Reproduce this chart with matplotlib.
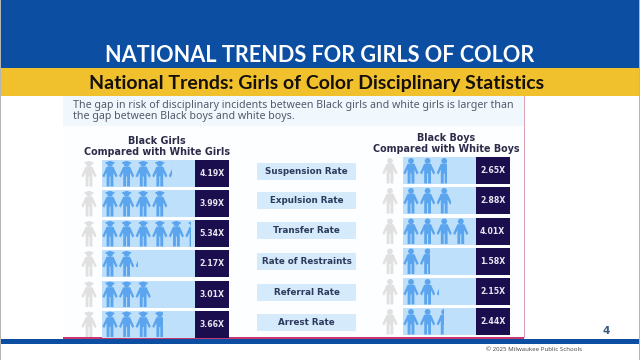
import matplotlib
matplotlib.use("Agg")
import matplotlib.pyplot as plt
from matplotlib.patches import Rectangle, Polygon, Circle, Ellipse

metrics = ["Suspension Rate", "Expulsion Rate", "Transfer Rate",
           "Rate of Restraints", "Referral Rate", "Arrest Rate"]
girls = [4.19, 3.99, 5.34, 2.17, 3.01, 3.66]
boys = [2.65, 2.88, 4.01, 1.58, 2.15, 2.44]

title = "NATIONAL TRENDS FOR GIRLS OF COLOR"
subtitle = "National Trends: Girls of Color Disciplinary Statistics"
intro = ["The gap in risk of disciplinary incidents between Black girls and white girls is larger than",
         "the gap between Black boys and white boys."]

BLUE = "#0b4ea2"
YELLOW = "#f0c02d"
LIGHT = "#bfe0fb"
ICON = "#5aa5ee"
GREY = "#e0e0e0"
DARK = "#1b0e4e"
TEXT = "#2c2c4a"

plt.rcParams["font.family"] = "Noto Sans"
fig = plt.figure(figsize=(6.4, 3.6), dpi=100)
ax = fig.add_axes([0, 0, 1, 1])
ax.set_xlim(0, 640)
ax.set_ylim(360, 0)
ax.axis("off")


def box(x0, y0, x1, y1, color, z=1):
    ax.add_patch(Rectangle((x0, y0), x1 - x0, y1 - y0, fc=color, ec="none", zorder=z))


def person(cx, top, h, color, girl, clip=None):
    # little figure, sized off its height, optionally cut at clip width
    u = h / 26
    parts = [
        Circle((cx, top + 3.4 * u), 2.9 * u),
        Polygon([(cx - 3.4 * u, top + 6.2 * u), (cx + 3.4 * u, top + 6.2 * u),
                 (cx + 7.6 * u, top + 15.5 * u), (cx + 5.8 * u, top + 17 * u),
                 (cx + 3.4 * u, top + 12 * u), (cx + 3.4 * u, top + 26 * u),
                 (cx + 0.5 * u, top + 26 * u), (cx + 0.5 * u, top + 16 * u),
                 (cx - 0.5 * u, top + 16 * u), (cx - 0.5 * u, top + 26 * u),
                 (cx - 3.4 * u, top + 26 * u), (cx - 3.4 * u, top + 12 * u),
                 (cx - 5.8 * u, top + 17 * u), (cx - 7.6 * u, top + 15.5 * u)]),
    ]
    if girl:
        parts.append(Ellipse((cx, top + 2.4 * u), 9.5 * u, 2.8 * u))
    for p in parts:
        p.set_facecolor(color)
        p.set_edgecolor("none")
        p.set_zorder(4)
        ax.add_patch(p)
        if clip is not None:
            p.set_clip_path(Rectangle((cx - 7.6 * u, top - 2), clip, h + 4, transform=ax.transData))


def column(values, tops, grey_x, bar_x0, bar_x1, dark_x1, first_x, step, girl):
    for val, top in zip(values, tops):
        h = 27
        box(bar_x0, top, bar_x1, top + h, LIGHT, 2)
        box(bar_x1, top, dark_x1, top + h, DARK, 3)
        person(grey_x, top + 0.5, h - 1, GREY, girl)
        full = int(val)
        for i in range(full):
            person(first_x + i * step, top + 0.5, h - 1, ICON, girl)
        frac = val - full
        if frac > 0.05:
            person(first_x + full * step, top + 0.5, h - 1, ICON, girl, clip=frac * step)
        ax.text((bar_x1 + dark_x1) / 2, top + h / 2 + 0.3, f"{val:.2f}X", color="#e9e6f2",
                fontsize=5.6, fontweight="bold", family="DejaVu Sans", ha="center", va="center", zorder=5)


# slide background
box(0, 0, 640, 360, "white", 0)
box(0, 0, 1, 360, "#b5b5b5", 6)
box(639, 0, 640, 360, "#b5b5b5", 6)
box(63, 96, 524, 338, "#fdfeff", 1)
box(63, 96, 524, 126, "#f1f8fd", 1)
box(524, 96, 524.6, 338, "#d9a3b3", 1)
box(0, 0, 640, 68, BLUE, 1)
box(0, 68, 640, 96, YELLOW, 1)
box(0, 339, 640, 344, BLUE, 1)
box(63, 337, 524, 339, "#c8386e", 2)

ax.text(320, 56, title, color="white", fontsize=15.6, fontweight="bold", family="Lato", ha="center", va="center")
ax.text(316.5, 84, subtitle, color="#15100a", fontsize=14, fontweight="bold", family="Lato", ha="center", va="center")
ax.text(73, 105.5, intro[0], color="#55586a", fontsize=7.65, va="center")
ax.text(73, 116.5, intro[1], color="#55586a", fontsize=7.65, va="center")

head = dict(color=TEXT, fontsize=6.95, fontweight="bold", family="DejaVu Sans", ha="center", va="center")
ax.text(157, 141, "Black Girls", **head)
ax.text(157, 152, "Compared with White Girls", **head)
ax.text(446, 138, "Black Boys", **head)
ax.text(446, 149, "Compared with White Boys", **head)

column(girls, [160, 190, 220, 250, 280.5, 310.5], 89, 102, 195, 228.5, 110, 16.6, True)
column(boys, [157, 187, 217.5, 247.5, 278, 308], 390, 403, 476, 509.5, 411, 16.6, False)

label_tops = [163, 192, 222, 253, 284, 314]
for name, top in zip(metrics, label_tops):
    box(257, top, 356, top + 16.5, "#d5eafb", 2)
    ax.text(306.5, top + 8.2, name, color="#2c3a5c", fontsize=6.3, fontweight="bold",
            family="DejaVu Sans", ha="center", va="center", zorder=3)

ax.text(606.5, 331.5, "4", color="#3c5a80", fontsize=7.5, fontweight="bold", family="DejaVu Sans", ha="center", va="center")
ax.text(534, 349.5, "\u00a9 2025 Milwaukee Public Schools", color="#4d4d4d", fontsize=4.4, ha="center", va="center")

fig.savefig("out.png", dpi=100)
